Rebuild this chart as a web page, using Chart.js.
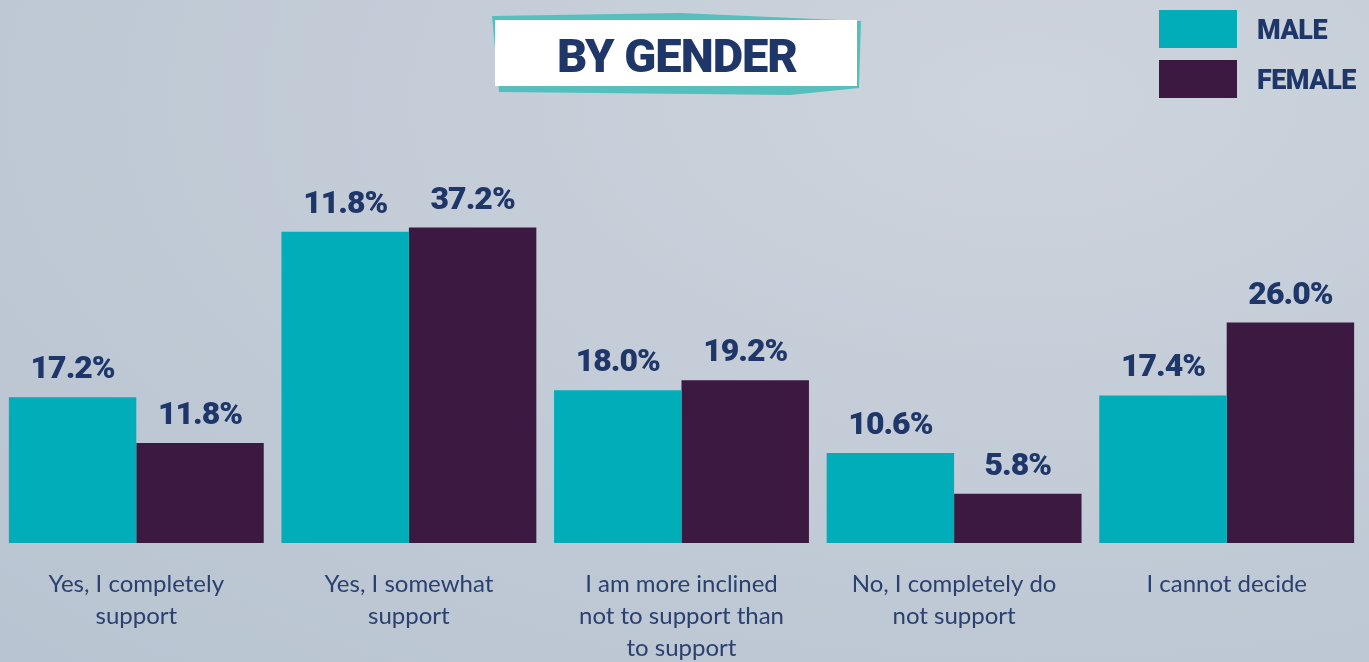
<!DOCTYPE html>
<html>
<head>
<meta charset="utf-8">
<script src="https://cdn.jsdelivr.net/npm/chart.js@4.4.1/dist/chart.umd.min.js"></script>
<style>
  html, body { margin: 0; padding: 0; }
  body {
    width: 1369px; height: 662px; overflow: hidden;
    background: radial-gradient(ellipse at 75% 15%, #cdd4dd 0%, #c3ccd7 45%, #b8c4d1 100%);
  }
</style>
</head>
<body>
<canvas id="genderChart" width="1369" height="662"></canvas>
<script>
// By gender – survey answers, bar heights

const categories = [
  ['Yes, I completely', 'support'],
  ['Yes, I somewhat', 'support'],
  ['I am more inclined', 'not to support than', 'to support'],
  ['No, I completely do', 'not support'],
  ['I cannot decide']
];
const seriesNames = ['MALE', 'FEMALE'];
const maleValues = [17.2, 36.7, 18.0, 10.6, 17.4];
const femaleValues = [11.8, 37.2, 19.2, 5.8, 26.0];
// labels as printed (the male "somewhat" bar is labelled 11.8% in the original)
const maleLabels = ['17.2%', '11.8%', '18.0%', '10.6%', '17.4%'];
const femaleLabels = ['11.8%', '37.2%', '19.2%', '5.8%', '26.0%'];

const NAVY = '#1f3669';

const valueLabels = {
  id: 'valueLabels',
  afterDatasetsDraw(chart) {
    const ctx = chart.ctx;
    const texts = [maleLabels, femaleLabels];
    ctx.save();
    ctx.font = '900 32px Roboto';
    ctx.letterSpacing = '-1px';
    ctx.fillStyle = NAVY;
    ctx.textAlign = 'center';
    ctx.textBaseline = 'alphabetic';
    chart.data.datasets.forEach((ds, i) => {
      chart.getDatasetMeta(i).data.forEach((bar, j) => {
        ctx.fillText(texts[i][j], bar.x, bar.y - 19);
      });
    });
    ctx.restore();
  }
};

// title badge + legend boxes top right
const titleAndLegend = {
  id: 'titleAndLegend',
  afterDraw(chart) {
    const ctx = chart.ctx;
    ctx.save();
    ctx.fillStyle = '#55bfbd';
    ctx.beginPath();
    ctx.moveTo(492, 16);
    ctx.lineTo(680, 13);
    ctx.lineTo(861, 21);
    ctx.lineTo(859, 88);
    ctx.lineTo(790, 95);
    ctx.lineTo(499, 92);
    ctx.closePath();
    ctx.fill();
    ctx.fillStyle = '#ffffff';
    ctx.fillRect(495, 20, 362, 66);

    ctx.fillStyle = NAVY;
    ctx.font = '900 47px Roboto';
    ctx.letterSpacing = '-1px';
    ctx.textAlign = 'center';
    ctx.textBaseline = 'alphabetic';
    ctx.fillText('BY GENDER', 677, 72);

    ctx.textAlign = 'left';
    ctx.font = '900 27px Roboto';
    ctx.letterSpacing = '-0.5px';
    chart.data.datasets.forEach((ds, i) => {
      const y = 10 + i * 50;
      ctx.fillStyle = ds.backgroundColor;
      ctx.fillRect(1159, y, 78, 38);
      ctx.fillStyle = NAVY;
      ctx.fillText(ds.label, 1257, y + 29);
    });
    ctx.restore();
  }
};

new Chart(document.getElementById('genderChart'), {
  type: 'bar',
  data: {
    labels: categories,
    datasets: [
      { label: seriesNames[0], data: maleValues, backgroundColor: '#00adb9' },
      { label: seriesNames[1], data: femaleValues, backgroundColor: '#3c1941' }
    ]
  },
  options: {
    responsive: false,
    animation: false,
    layout: { padding: { top: 119, left: 0, right: 6, bottom: 0 } },
    plugins: {
      legend: { display: false },
      tooltip: { enabled: false }
    },
    datasets: {
      bar: { categoryPercentage: 0.935, barPercentage: 1 }
    },
    scales: {
      x: {
        grid: { display: false, drawTicks: false },
        border: { display: false },
        ticks: {
          color: '#2c4070',
          font: { family: 'Lato', size: 24, lineHeight: 1.34 },
          padding: 25,
          maxRotation: 0,
          autoSkip: false
        },
        afterFit(scale) { scale.height = 119; }
      },
      y: { display: false, min: 0, max: 50 }
    }
  },
  plugins: [valueLabels, titleAndLegend]
});
</script>
</body>
</html>
